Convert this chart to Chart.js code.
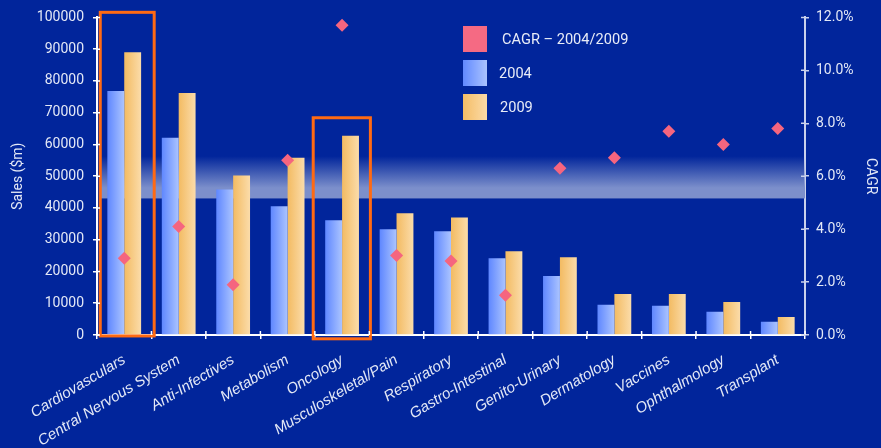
<!DOCTYPE html>
<html>
<head>
<meta charset="utf-8">
<script src="https://cdn.jsdelivr.net/npm/chart.js@4.4.0/dist/chart.umd.min.js"></script>
<style>
    html, body { margin: 0; padding: 0; background: #01259b; }
    #wrap { position: relative; width: 881px; height: 448px; }
    canvas { display: block; }
    .legend { position: absolute; left: 463px; top: 26px; font: 14.6px Roboto, sans-serif; color: #e8ecf7; }
    .legend div { position: relative; height: 34px; }
    .legend span.sw { position: absolute; left: 0; top: 0; width: 24px; height: 26px; }
    .legend span.lbl { position: absolute; top: 4px; white-space: nowrap; }
</style>
</head>
<body>
<div id="wrap">
    <canvas id="salesChart" width="881" height="448"></canvas>
    <div class="legend">
        <div><span class="sw" style="background:#f56a83"></span><span class="lbl" style="left:39px">CAGR – 2004/2009</span></div>
        <div><span class="sw" style="background:linear-gradient(to right,#6189ff,#aac3ff)"></span><span class="lbl" style="left:36px">2004</span></div>
        <div><span class="sw" style="background:linear-gradient(to right,#f4bd66,#fbdba8)"></span><span class="lbl" style="left:37px">2009</span></div>
    </div>
</div>
<script>
// Data
const categories = ['Cardiovasculars', 'Central Nervous System', 'Anti-Infectives', 'Metabolism', 'Oncology',
    'Musculoskeletal/Pain', 'Respiratory', 'Gastro-Intestinal', 'Genito-Urinary', 'Dermatology',
    'Vaccines', 'Ophthalmology', 'Transplant'];
const sales2004 = [76800, 62100, 45800, 40500, 36100, 33300, 32700, 24200, 18600, 9500, 9200, 7300, 4200];
const sales2009 = [89000, 76200, 50200, 55800, 62700, 38300, 37000, 26400, 24500, 12900, 12900, 10400, 5700];
const cagr = [2.9, 4.1, 1.9, 6.6, 11.7, 3.0, 2.8, 1.5, 6.3, 6.7, 7.7, 7.2, 7.8];

// highlighted categories (orange frames): sales range and extent in category widths
const highlights = [
    { index: 0, top: 101600, bottom: -300, from: -0.44, to: 0.55 },
    { index: 4, top: 68400, bottom: -1200, from: -0.53, to: 0.52 }
];

const textColor = '#e3e8f6';
const barShare = 0.62;

// horizontal gradient per bar, built from the category scale
function barFill(c1, c2, side) {
    return (ctx) => {
        const chart = ctx.chart;
        const xs = chart.scales.x;
        if (ctx.type !== 'data' || !xs || !xs.width) return c1;
        const center = xs.getPixelForValue(ctx.dataIndex);
        if (!isFinite(center)) return c1;
        const w = xs.width / categories.length * barShare / 2;
        const x0 = side < 0 ? center - w : center;
        const g = chart.ctx.createLinearGradient(x0, 0, x0 + w, 0);
        g.addColorStop(0, c1);
        g.addColorStop(1, c2);
        return g;
    };
}

// background, light band, orange frames and the inner half of the tick marks
const decoPlugin = {
    id: 'deco',
    beforeDraw(chart) {
        const c = chart.ctx;
        c.save();
        c.fillStyle = '#01259b';
        c.fillRect(0, 0, chart.width, chart.height);
        c.restore();
    },
    beforeDatasetsDraw(chart) {
        const { ctx: c, chartArea: a, scales } = chart;
        const yTop = scales.y.getPixelForValue(56300);
        const yBot = scales.y.getPixelForValue(43000);
        const g = c.createLinearGradient(0, yTop, 0, yBot);
        g.addColorStop(0, 'rgba(124,143,203,0)');
        g.addColorStop(0.75, 'rgba(124,143,203,1)');
        g.addColorStop(1, 'rgba(124,143,203,1)');
        c.save();
        c.fillStyle = g;
        c.fillRect(a.left + 2, yTop, a.right - a.left - 2, yBot - yTop);
        c.restore();
    },
    afterDatasetsDraw(chart) {
        const { ctx: c, scales } = chart;
        const step = scales.x.width / categories.length;
        c.save();
        c.strokeStyle = '#ff6a13';
        c.lineWidth = 3;
        highlights.forEach(h => {
            const cx = scales.x.getPixelForValue(h.index);
            const top = scales.y.getPixelForValue(h.top);
            const bot = scales.y.getPixelForValue(h.bottom);
            c.strokeRect(cx + h.from * step, top, (h.to - h.from) * step, bot - top);
        });
        c.restore();
    },
    afterDraw(chart) {
        const { ctx: c, chartArea: a, scales } = chart;
        const step = scales.x.width / categories.length;
        c.save();
        c.lineWidth = 1.5;
        c.strokeStyle = '#ffffff';
        c.beginPath();
        for (let i = 1; i <= categories.length; i++) {
            const x = a.left + i * step;
            c.moveTo(x, a.bottom);
            c.lineTo(x, a.bottom - 4);
        }
        scales.y.ticks.forEach(t => {
            const y = scales.y.getPixelForValue(t.value);
            c.moveTo(a.left, y);
            c.lineTo(a.left + 3, y);
        });
        c.stroke();
        c.strokeStyle = '#c9d1ec';
        c.beginPath();
        scales.y1.ticks.forEach(t => {
            const y = scales.y1.getPixelForValue(t.value);
            c.moveTo(a.right, y);
            c.lineTo(a.right - 4, y);
        });
        c.stroke();
        c.restore();
    }
};

const chart = new Chart(document.getElementById('salesChart'), {
    type: 'bar',
    data: {
        labels: categories,
        datasets: [
            {
                type: 'line',
                label: 'CAGR – 2004/2009',
                data: cagr,
                yAxisID: 'y1',
                showLine: false,
                pointStyle: 'rectRot',
                pointRadius: 6.5,
                pointBackgroundColor: '#f5657f',
                pointBorderWidth: 0,
                order: 0
            },
            {
                label: '2004',
                data: sales2004,
                backgroundColor: barFill('#5f87ff', '#abc4ff', -1),
                borderWidth: 0,
                categoryPercentage: barShare,
                barPercentage: 1,
                order: 1
            },
            {
                label: '2009',
                data: sales2009,
                backgroundColor: barFill('#f3bb62', '#fbdcaa', 1),
                borderWidth: 0,
                categoryPercentage: barShare,
                barPercentage: 1,
                order: 1
            }
        ]
    },
    options: {
        responsive: false,
        animation: false,
        layout: { autoPadding: false, padding: { top: 13, left: 0, right: 0, bottom: 0 } },
        plugins: {
            legend: { display: false },
            tooltip: { enabled: false }
        },
        scales: {
            x: {
                grid: { drawOnChartArea: false, color: '#ffffff', tickLength: 4, lineWidth: 1.5 },
                border: { color: '#ffffff', width: 2 },
                ticks: {
                    color: textColor,
                    font: { family: 'Liberation Sans', size: 15, style: 'italic' },
                    minRotation: 31,
                    maxRotation: 31,
                    padding: 12,
                    autoSkip: false
                },
                afterFit(scale) { scale.height = 113; }
            },
            y: {
                position: 'left',
                min: 0,
                max: 100000,
                grid: { drawOnChartArea: false, color: '#ffffff', tickLength: 4, lineWidth: 1.5 },
                border: { color: '#ffffff', width: 2 },
                ticks: {
                    stepSize: 10000,
                    color: textColor,
                    font: { family: 'Roboto', size: 14 },
                    padding: 9,
                    callback: v => String(v)
                },
                title: {
                    display: true,
                    text: 'Sales ($m)',
                    color: textColor,
                    font: { family: 'Roboto', size: 14 },
                    padding: { top: 10, bottom: 0 }
                },
                afterFit(scale) { scale.width = 97; }
            },
            y1: {
                position: 'right',
                min: 0,
                max: 12,
                grid: { drawOnChartArea: false, color: '#c9d1ec', tickLength: 4, lineWidth: 1.5 },
                border: { color: '#c9d1ec', width: 2 },
                ticks: {
                    stepSize: 2,
                    color: textColor,
                    font: { family: 'Roboto', size: 14 },
                    padding: 7,
                    callback: v => v.toFixed(1) + '%'
                },
                title: {
                    display: true,
                    text: 'CAGR',
                    color: textColor,
                    font: { family: 'Roboto', size: 14 },
                    padding: { top: 2, bottom: 0 }
                },
                afterFit(scale) { scale.width = 76; }
            }
        }
    },
    plugins: [decoPlugin]
});
</script>
</body>
</html>
